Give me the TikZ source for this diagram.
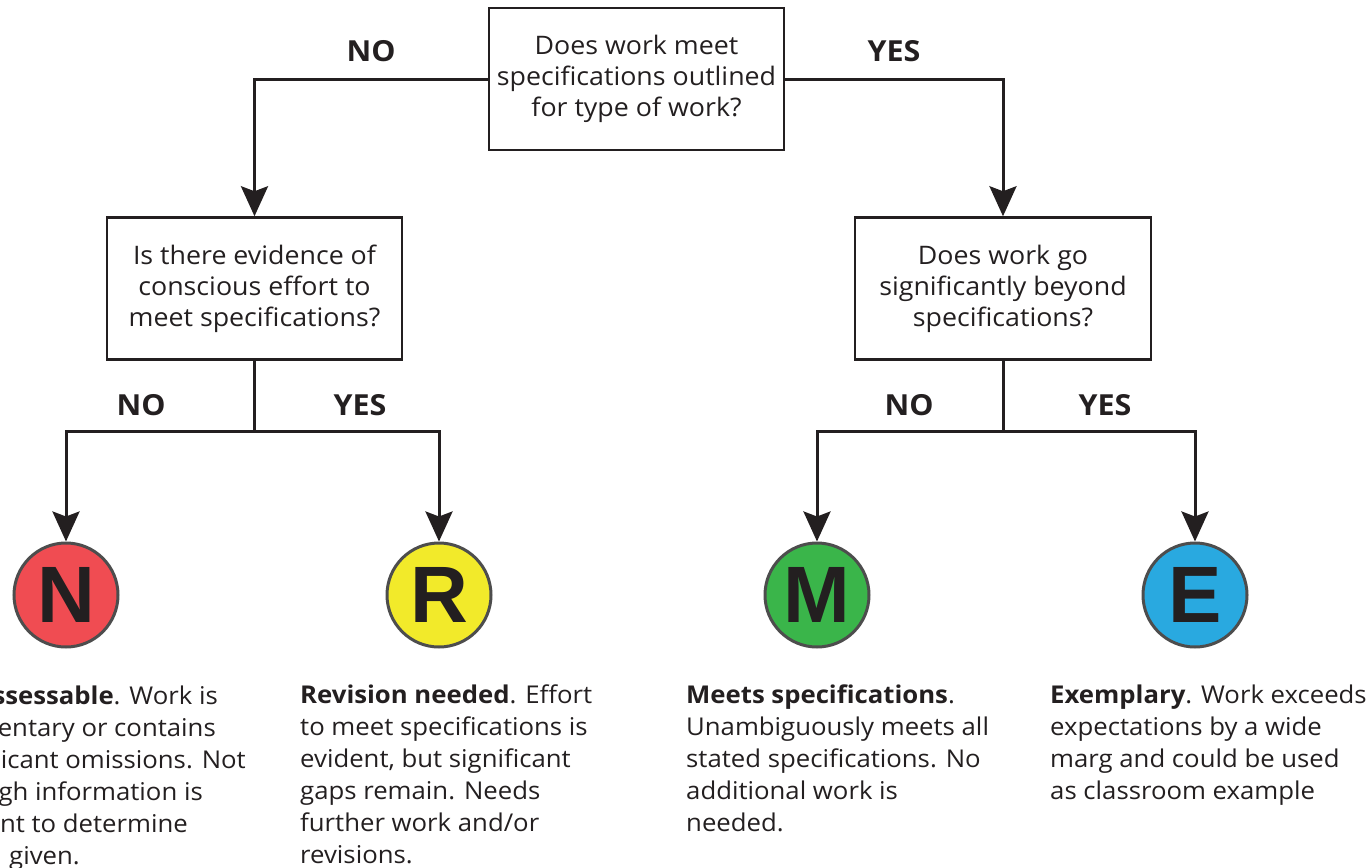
\documentclass[tikz,border=0pt]{standalone}
\usepackage{fontspec}
\setmainfont[FakeStretch=1.05]{Open Sans}
\newfontfamily\gradefont{Liberation Sans}
\usetikzlibrary{arrows.meta}
\definecolor{ink}{HTML}{231F20}
\definecolor{gborder}{HTML}{4D4D4D}
\definecolor{gN}{HTML}{F04C52}
\definecolor{gR}{HTML}{F2EA2A}
\definecolor{gM}{HTML}{3AB54A}
\definecolor{gE}{HTML}{29A9E0}
\begin{document}
\begin{tikzpicture}[x=1pt,y=-1pt,
 qbox/.style={draw=ink, line width=2.5pt, minimum width=295pt, minimum height=142pt, align=center, font=\fontsize{25.5}{31}\selectfont, text=ink, inner sep=0pt},
 grade/.style={circle, draw=gborder, line width=3pt, minimum size=104pt, inner sep=0pt, font=\gradefont\bfseries\fontsize{80}{80}\selectfont, text=ink},
 conn/.style={draw=ink, line width=3pt},
 arr/.style={conn, -{Stealth[length=30pt,width=27pt,inset=5pt]}},
 lbl/.style={font=\bfseries\fontsize{29}{29}\selectfont, text=ink},
 desc/.style={align=left, anchor=north west, inner sep=0pt, font=\fontsize{24.5}{32}\selectfont, text=ink},
 frag/.style={anchor=base east, inner sep=0pt, font=\fontsize{24.5}{32}\selectfont, text=ink}
]
\useasboundingbox (0,0) rectangle (1369,868);

\node[qbox] (q1) at (636.5,79) {Does work meet\\specifications outlined\\for type of work?};
\node[qbox] (q2) at (254.5,288.5) {Is there evidence of\\conscious effort to\\meet specifications?};
\node[qbox, minimum width=296pt] (q3) at (1003,288.5) {Does work go\\significantly beyond\\specifications?};

\node[grade, fill=gN] (N) at (66,595) {N};
\node[grade, fill=gR] (R) at (439,595) {R};
\node[grade, fill=gM] (M) at (817,595) {M};
\node[grade, fill=gE] (E) at (1195,595) {E};

\coordinate (j2) at (254.5,431);
\coordinate (j3) at (1003,431);

\draw[arr] (q1.west) -| (q2.north);
\draw[arr] (q1.east) -| (q3.north);
\draw[conn] (q2.south) -- (j2);
\draw[conn] (q3.south) -- (j3);
\draw[arr] (j2) -| (N.north);
\draw[arr] (j2) -| (R.north);
\draw[arr] (j3) -| (M.north);
\draw[arr] (j3) -| (E.north);

\node[lbl] (l1) at (371,51) {NO};
\node[lbl] (l2) at (894,51) {YES};
\node[lbl] (l3) at (141,405) {NO};
\node[lbl] (l4) at (360,405) {YES};
\node[lbl] (l5) at (909,405) {NO};
\node[lbl] (l6) at (1105,405) {YES};

\node[frag] (n1) at (218,704) {\textbf{ssessable}. Work is};
\node[frag] (n2) at (216,736) {mentary or contains};
\node[frag] (n3) at (246,768) {icant omissions. Not};
\node[frag] (n4) at (203,800) {gh information is};
\node[frag] (n5) at (188,832) {nt to determine};
\node[frag] (n6) at (80,864) {given.};

\node[desc] (dR) at (300,685) {\textbf{Revision needed}. Effort\\to meet specifications is\\evident, but significant\\gaps remain. Needs\\further work and/or\\revisions.};
\node[desc] (dM) at (686,685) {\textbf{Meets specifications}.\\Unambiguously meets all\\stated specifications. No\\additional work is\\needed.};
\node[desc] (dE) at (1050,685) {\textbf{Exemplary}. Work exceeds\\expectations by a wide\\marg and could be used\\as classroom example};
\end{tikzpicture}
\end{document}
